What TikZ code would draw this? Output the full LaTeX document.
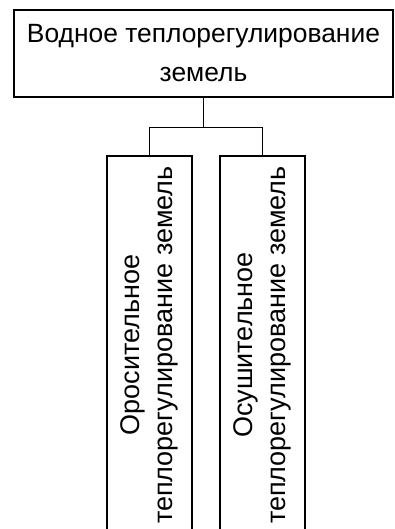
\documentclass[tikz,border=0pt]{standalone}
\usepackage{fontspec}
\setmainfont{Liberation Sans}
\begin{document}
\begin{tikzpicture}[x=1pt,y=-1pt,
  box/.style={draw=black, line width=1.3pt, inner sep=0pt},
  conn/.style={draw=black, line width=1.3pt},
  toptext/.style={font=\fontsize{26.4}{39}\selectfont, align=center},
  vtext/.style={font=\fontsize{27}{33}\selectfont, align=center}]
\useasboundingbox (0,0) rectangle (394,529);
\clip (0,0) rectangle (394,529);
\node[box, toptext, minimum width=379pt, minimum height=87pt] (top) at (203.5,53.5)
  {Водное теплорегулирование\\земель};
\node[box, vtext, rotate=90, minimum width=378pt, minimum height=85pt] (left) at (149.5,345)
  {Оросительное\\теплорегулирование земель};
\node[box, vtext, rotate=90, minimum width=378pt, minimum height=85pt] (right) at (262.5,345)
  {Осушительное\\теплорегулирование земель};
\draw[conn] (top.south) -- ++(0,30) coordinate (j);
\draw[conn] (j) -| (left.east);
\draw[conn] (j) -| (right.east);
\end{tikzpicture}
\end{document}
